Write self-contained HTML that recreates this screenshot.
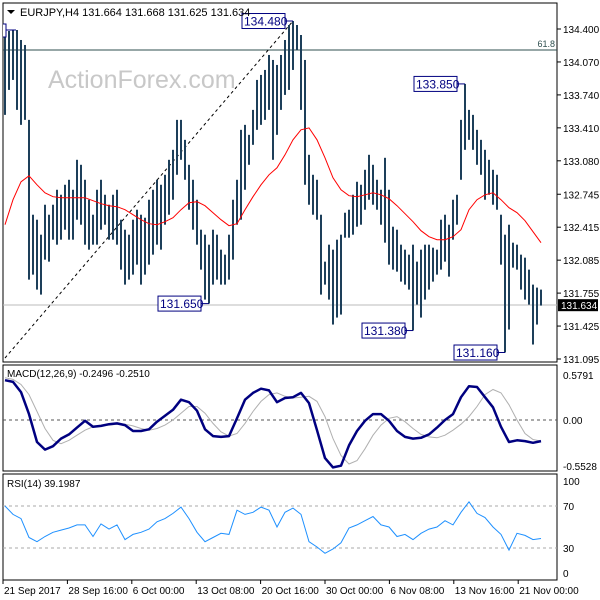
<!DOCTYPE html>
<html><head><meta charset="utf-8">
<style>
html,body{margin:0;padding:0;background:#fff;}
svg{display:block;font-family:"Liberation Sans",sans-serif;}
</style></head>
<body>
<svg id="chart" width="600" height="600" viewBox="0 0 600 600" xmlns="http://www.w3.org/2000/svg">
<rect x="0" y="0" width="600" height="600" fill="#fff"/>
<g id="panels">
<rect x="3" y="3" width="554" height="359" fill="none" stroke="#000" stroke-width="1"/>
<rect x="3" y="365" width="554" height="106" fill="none" stroke="#000" stroke-width="1"/>
<rect x="3" y="474" width="554" height="106" fill="none" stroke="#000" stroke-width="1"/>
</g>
<text x="48" y="88" font-size="25" fill="#c8c8c8">ActionForex.com</text>
<g id="priceAxis"></g>
<line x1="3" y1="50" x2="557" y2="50" stroke="#2f4f4f" stroke-width="1"/>
<text x="555" y="47" font-size="9" fill="#2f4f4f" text-anchor="end">61.8</text>
<line x1="3" y1="305" x2="557" y2="305" stroke="#bbb" stroke-width="1"/>
<line x1="5" y1="358" x2="293" y2="21" stroke="#000" stroke-width="1" stroke-dasharray="3,3"/>
<g id="bars"></g>
<g id="ma"></g>
<g id="annots"></g>
<g id="macd"></g>
<g id="rsi"></g>
<g id="xaxis"></g>
<text x="20" y="16" font-size="11" fill="#000">EURJPY,H4  131.664 131.668 131.625 131.634</text>
<path d="M7,10 L15,10 L11,14 Z" fill="#000"/>
<text x="7" y="377" font-size="10" fill="#000">MACD(12,26,9) -0.2496 -0.2510</text>
<text x="7" y="487" font-size="10" fill="#000">RSI(14) 39.1987</text>
</svg>
<script>
const highs=[134.39,134.38,134.39,134.39,134.29,134.24,133.49,132.54,132.49,132.34,132.64,132.54,132.64,132.79,132.74,132.84,132.89,132.79,133.09,133.04,132.89,132.69,132.54,132.79,132.89,132.74,132.64,132.74,132.79,132.49,132.39,132.34,132.49,132.59,132.54,132.51,132.69,132.79,132.89,132.84,132.94,133.09,133.19,133.49,133.49,133.29,133.04,132.89,132.69,132.39,132.34,132.24,132.39,132.34,132.19,132.14,132.34,132.69,132.89,133.39,133.44,133.34,133.59,133.89,133.94,133.99,134.14,134.09,134.04,134.14,134.29,134.44,134.48,134.44,134.34,134.09,133.14,132.94,132.89,132.54,132.07,132.24,132.19,132.29,132.34,132.56,132.59,132.74,132.87,132.84,132.99,133.14,133.04,132.89,132.79,133.11,132.79,132.42,132.39,132.24,132.19,132.14,132.24,132.07,132.19,132.24,132.24,132.21,132.19,132.49,132.54,132.44,132.69,132.74,133.49,133.85,133.59,133.54,133.39,133.29,133.19,133.09,132.99,132.94,132.54,132.34,132.44,132.26,132.24,132.14,132.11,131.99,131.84,131.81,131.79];
const lows=[133.54,133.79,133.89,133.59,133.44,133.49,131.89,131.94,131.79,131.74,132.09,132.07,132.29,132.24,132.29,132.39,132.29,132.29,132.49,132.44,132.24,132.19,132.24,132.24,132.39,132.44,132.29,132.29,132.24,131.99,131.84,131.89,131.94,132.04,131.84,131.94,132.04,132.14,132.24,132.19,132.44,132.54,132.69,132.94,133.09,132.89,132.59,132.39,132.24,131.99,131.69,131.65,131.84,131.89,131.84,131.84,131.89,132.09,132.44,132.49,132.79,133.04,133.24,133.39,133.44,133.49,133.59,133.09,133.34,133.59,133.74,133.79,133.99,134.19,133.59,132.84,132.64,132.54,132.49,131.74,131.84,131.69,131.44,131.51,131.54,132.31,132.31,132.34,132.42,132.44,132.59,132.69,132.64,132.59,132.44,132.26,132.04,131.99,131.97,131.87,131.84,131.79,131.38,131.64,131.51,131.69,131.79,131.87,131.94,131.99,132.07,131.92,132.29,132.44,132.89,133.19,133.29,133.19,133.04,132.94,132.69,132.74,132.64,132.59,132.04,131.16,131.39,132.01,131.99,131.79,131.69,131.64,131.24,131.44,131.63];
const maYs=[225,200,182,176,185,193,197,198,198,198,198,201,204,206,207,210,215,220,224,225,222,218,210,203,202,206,213,220,226,224,210,197,185,175,168,155,140,130,128,140,158,178,190,196,197,195,193,195,199,206,214,222,231,237,240,240,237,230,210,200,195,193,200,208,213,221,232,243];
const maValues=maYs.map(y=>+(134.69-y/100).toFixed(3));
const macdMain=[0.47,0.45,0.33,0.07,-0.26,-0.35,-0.31,-0.22,-0.17,-0.09,-0.01,-0.08,-0.07,-0.05,-0.04,-0.06,-0.13,-0.13,-0.11,-0.02,0.05,0.12,0.24,0.21,0.11,-0.11,-0.19,-0.20,-0.19,0.02,0.24,0.32,0.37,0.35,0.21,0.26,0.27,0.32,0.20,-0.12,-0.45,-0.56,-0.54,-0.30,-0.13,-0.01,0.07,0.07,-0.01,-0.13,-0.20,-0.22,-0.21,-0.17,-0.09,0.00,0.07,0.27,0.40,0.39,0.27,0.15,-0.08,-0.26,-0.24,-0.25,-0.27,-0.25];
const macdSignal=[0.50,0.48,0.42,0.30,0.10,-0.10,-0.24,-0.28,-0.24,-0.18,-0.12,-0.08,-0.07,-0.06,-0.05,-0.05,-0.07,-0.10,-0.12,-0.10,-0.06,0.00,0.08,0.16,0.16,0.08,-0.04,-0.14,-0.19,-0.16,-0.04,0.10,0.22,0.30,0.32,0.28,0.26,0.27,0.28,0.22,0.04,-0.22,-0.42,-0.52,-0.48,-0.34,-0.18,-0.06,0.02,0.04,-0.02,-0.10,-0.17,-0.20,-0.21,-0.18,-0.12,-0.05,0.04,0.16,0.30,0.36,0.32,0.18,0.00,-0.16,-0.23,-0.25];
const rsiValues=[70,62,58,40,36,41,45,47,49,52,52,41,53,48,52,38,43,45,48,55,58,63,69,58,45,36,40,44,43,66,62,64,69,66,50,64,68,62,36,31,25,29,35,49,52,56,60,52,50,41,43,38,44,48,50,56,52,64,74,63,59,50,43,28,44,42,38,39];
const priceTicks=["134.400","134.070","133.740","133.410","133.080","132.745","132.415","132.085","131.755","131.425","131.095"];
const macdTicks=["0.5791","0.00","-0.5528"];
const rsiTicks=["100","70","30","0"];
const timeLabels=["21 Sep 2017","28 Sep 16:00","6 Oct 00:00","13 Oct 08:00","20 Oct 16:00","30 Oct 00:00","6 Nov 08:00","13 Nov 16:00","21 Nov 00:00"];
const annotations=[["134.480",72,"high"],["133.850",115,"high"],["131.650",51,"low"],["131.380",102,"low"],["131.160",125,"low"]];
const lastPrice=131.634;

const NS="http://www.w3.org/2000/svg";
function mk(tag,attrs,parent){const e=document.createElementNS(NS,tag);for(const k in attrs)e.setAttribute(k,attrs[k]);parent.appendChild(e);return e;}
const py=p=>29+(134.4-p)*99.85;
const bx=i=>5+4*i;
const lx=j=>5+8*j;
const my=v=>420-v*84.6;
const ry=v=>506+(70-v)*1.05;

const pa=document.getElementById('priceAxis');
priceTicks.forEach(t=>{const y=py(parseFloat(t));
 const l=mk('line',{x1:557,y1:y,x2:561,y2:y,stroke:'#000'},pa);
 
 
 const tx=mk('text',{x:563,y:y+4,'font-size':10,fill:'#000'},pa);tx.textContent=t;
 
 
});
const lpY=py(lastPrice);
const lpr=mk('rect',{x:558,y:lpY-6,width:40,height:12,fill:'#000'},pa);


const lpt=mk('text',{x:561,y:lpY+4,'font-size':10,fill:'#fff'},pa);lpt.textContent=lastPrice.toFixed(3);



const bg=document.getElementById('bars');
highs.forEach((h,i)=>{
 const l=mk('line',{x1:bx(i),y1:py(h),x2:bx(i),y2:py(lows[i]),stroke:'#1d3f5a','stroke-width':2},bg);
 
 
});
const ma=document.getElementById('ma');
const mal=mk('polyline',{points:maValues.map((v,j)=>lx(j)+','+py(v).toFixed(1)).join(' '),fill:'none',stroke:'#ff0000','stroke-width':1},ma);



const an=document.getElementById('annots');
annotations.forEach(a=>{
 const i=a[1];const y=py(parseFloat(a[0]));const x=bx(i);
 const w=43,h=15;const bxr=x-8;const left=bxr-w;
 const ln=mk('polyline',{points:`${bxr},${y} ${x},${y}`,fill:'none',stroke:'#000080'},an);
 
 
 const r=mk('rect',{x:left,y:y-7.5,width:w,height:h,fill:'#fff',stroke:'#000080'},an);
 
 
 const t=mk('text',{x:left+2,y:y+4.5,'font-size':12,fill:'#000080'},an);t.textContent=a[0];
 
 
});
const edge=mk('polyline',{points:'3,24 6,24 6,37 3,37',fill:'#fff',stroke:'#000080'},an);


const edgeLn=mk('line',{x1:6,y1:30,x2:16,y2:30,stroke:'#000080'},an);



const mg=document.getElementById('macd');
const z=mk('line',{x1:3,y1:my(0),x2:557,y2:my(0),stroke:'#555','stroke-dasharray':'3,3'},mg);


const sg=mk('polyline',{points:macdSignal.map((v,j)=>lx(j)+','+my(v).toFixed(1)).join(' '),fill:'none',stroke:'#b0b0b0','stroke-width':1},mg);


const mm=mk('polyline',{points:macdMain.map((v,j)=>lx(j)+','+my(v).toFixed(1)).join(' '),fill:'none',stroke:'#000080','stroke-width':2.5,'stroke-linejoin':'round'},mg);


const macdTickVals=[0.5791,0,-0.5528];
macdTicks.forEach((t,k)=>{const y=my(macdTickVals[k]);
 const tx=mk('text',{x:563,y:Math.min(Math.max(y+4,379),470),'font-size':10,fill:'#000'},mg);tx.textContent=t;
 
 
});

const rg=document.getElementById('rsi');
[70,30].forEach(v=>{const l=mk('line',{x1:3,y1:ry(v),x2:557,y2:ry(v),stroke:'#aaa','stroke-dasharray':'3,3'},rg);
 
 });
const rl=mk('polyline',{points:rsiValues.map((v,j)=>lx(j)+','+ry(v).toFixed(1)).join(' '),fill:'none',stroke:'#1e90ff','stroke-width':1},rg);


const rsiLabelY=[485,510,552,577];
rsiTicks.forEach((t,k)=>{const tx=mk('text',{x:563,y:rsiLabelY[k],'font-size':10,fill:'#000'},rg);tx.textContent=t;
 
 });

const xg=document.getElementById('xaxis');
timeLabels.forEach((t,k)=>{const x=3+k*64.4;
 const l=mk('line',{x1:x,y1:580,x2:x,y2:584,stroke:'#000'},xg);
 
 
 const tx=mk('text',{x:x+1,y:594,'font-size':10,fill:'#000'},xg);tx.textContent=t;
 
 
});
</script>
</body></html>
